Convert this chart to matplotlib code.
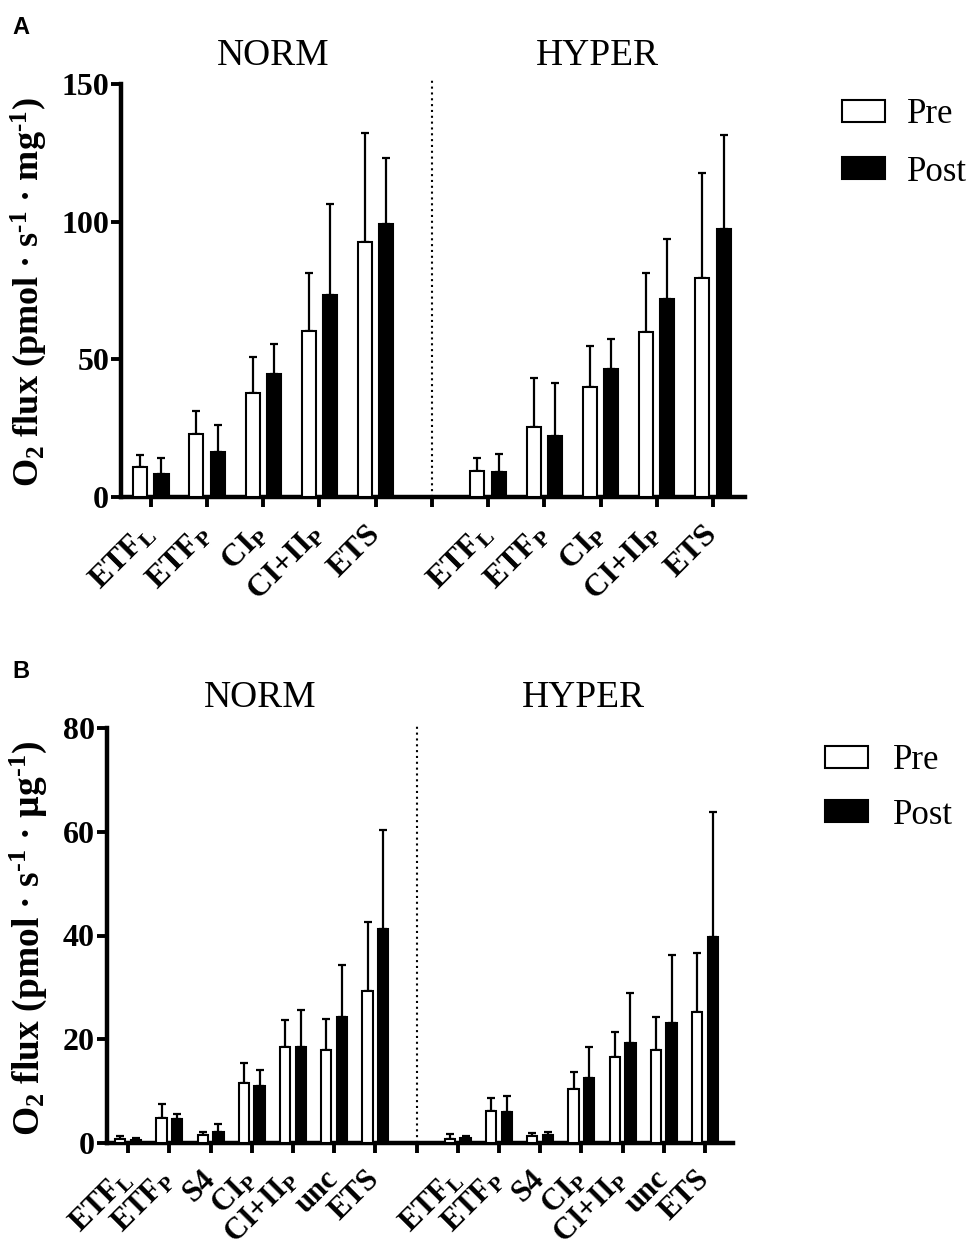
import numpy as np
import matplotlib
matplotlib.use("Agg")
import matplotlib.pyplot as plt
from matplotlib.patches import Patch

plt.rcParams['font.family'] = ['Liberation Serif', 'DejaVu Serif']
plt.rcParams['mathtext.fontset'] = 'custom'
plt.rcParams['mathtext.rm'] = 'Liberation Serif:bold'
plt.rcParams['mathtext.it'] = 'Liberation Serif:bold'
plt.rcParams['mathtext.bf'] = 'Liberation Serif:bold'

# ---------------- data ----------------
groups = ["NORM", "HYPER"]
series = ["Pre", "Post"]

cats_a = [r"ETF$_\mathrm{L}$", r"ETF$_\mathrm{P}$", r"CI$_\mathrm{P}$", r"CI+II$_\mathrm{P}$", "ETS"]
a_norm_pre = [11.0, 22.9, 37.9, 60.2, 92.7]
a_norm_pre_sd = [4.3, 8.4, 12.8, 21.0, 39.4]
a_norm_post = [8.2, 16.2, 44.8, 73.5, 99.0]
a_norm_post_sd = [6.1, 10.0, 10.8, 32.8, 24.3]
a_hyper_pre = [9.5, 25.6, 40.1, 60.0, 79.7]
a_hyper_pre_sd = [4.6, 17.8, 14.8, 21.3, 37.8]
a_hyper_post = [8.9, 22.3, 46.4, 71.9, 97.2]
a_hyper_post_sd = [6.7, 19.0, 10.9, 21.8, 34.1]

cats_b = [r"ETF$_\mathrm{L}$", r"ETF$_\mathrm{P}$", "S4", r"CI$_\mathrm{P}$", r"CI+II$_\mathrm{P}$", "unc", "ETS"]
b_norm_pre = [0.7, 4.7, 1.5, 11.6, 18.4, 17.9, 29.2]
b_norm_pre_sd = [0.5, 2.7, 0.6, 3.7, 5.2, 6.0, 13.5]
b_norm_post = [0.6, 4.6, 2.1, 11.0, 18.4, 24.2, 41.2]
b_norm_post_sd = [0.3, 0.9, 1.6, 3.0, 7.2, 10.1, 19.2]
b_hyper_pre = [0.7, 6.2, 1.2, 10.4, 16.6, 17.8, 25.3]
b_hyper_pre_sd = [1.0, 2.4, 0.6, 3.3, 4.7, 6.4, 11.4]
b_hyper_post = [0.9, 6.0, 1.4, 12.4, 19.2, 23.2, 39.7]
b_hyper_post_sd = [0.4, 3.0, 0.6, 6.1, 9.7, 13.1, 24.1]

ylabel_a = "O$_2$ flux (pmol · s$^{\u20101}$ · mg$^{\u20101}$)"
ylabel_b = "O$_2$ flux (pmol · s$^{\u20101}$ · µg$^{\u20101}$)"
yticks_a = [0, 50, 100, 150]
yticks_b = [0, 20, 40, 60, 80]

W, H = 974, 1256
fig = plt.figure(figsize=(W / 100, H / 100), dpi=100)


def px_axes(l, t, r, b):
    return fig.add_axes([l / W, 1 - b / H, (r - l) / W, (b - t) / H])


def draw_panel(ax, cats, norm_pre, norm_pre_sd, norm_post, norm_post_sd,
               hyper_pre, hyper_pre_sd, hyper_post, hyper_post_sd,
               ymax, yticks, xlim, tick_fs, xtick_fs, xpad):
    n = len(cats)
    xn = np.arange(n)
    xh = np.arange(n) + n + 1
    off, bw = 0.19, 0.25
    pre = list(norm_pre) + list(hyper_pre)
    pre_sd = list(norm_pre_sd) + list(hyper_pre_sd)
    post = list(norm_post) + list(hyper_post)
    post_sd = list(norm_post_sd) + list(hyper_post_sd)
    xs = np.concatenate([xn, xh])
    ax.bar(xs - off, pre, width=bw, facecolor='white', edgecolor='black', linewidth=1.5, zorder=3)
    ax.bar(xs + off, post, width=bw, facecolor='black', edgecolor='black', linewidth=1.5, zorder=3)
    ax.errorbar(xs - off, pre, yerr=[np.zeros(len(pre)), pre_sd], fmt='none', ecolor='black',
                elinewidth=1.6, capsize=2.6, capthick=1.6, zorder=2)
    ax.errorbar(xs + off, post, yerr=[np.zeros(len(post)), post_sd], fmt='none', ecolor='black',
                elinewidth=1.6, capsize=2.6, capthick=1.6, zorder=2)
    gap = n
    ax.plot([gap, gap], [0, ymax * 1.012], linestyle=(0, (1, 1.8)), color='black', lw=1.5,
            clip_on=False, zorder=1)
    ax.set_xlim(*xlim)
    ax.set_ylim(0, ymax)
    ax.set_yticks(yticks)
    ax.set_yticklabels([str(v) for v in yticks], fontsize=tick_fs, fontweight='bold')
    allpos = list(xn) + [gap] + list(xh)
    labels = list(cats) + [""] + list(cats)
    ax.set_xticks(allpos)
    ax.set_xticklabels(labels, rotation=45, ha='right', va='center', rotation_mode='anchor',
                       fontsize=xtick_fs, fontweight='bold')
    for s in ['top', 'right']:
        ax.spines[s].set_visible(False)
    for s in ['left', 'bottom']:
        ax.spines[s].set_linewidth(3.2)
    ax.tick_params(axis='both', direction='out', length=7.5, width=2.8)
    ax.tick_params(axis='y', pad=1)
    ax.tick_params(axis='x', pad=xpad)


axA = px_axes(121, 84, 745, 497)
draw_panel(axA, cats_a, a_norm_pre, a_norm_pre_sd, a_norm_post, a_norm_post_sd,
           a_hyper_pre, a_hyper_pre_sd, a_hyper_post, a_hyper_post_sd,
           150, yticks_a, (-0.53, 10.57), 23, 23, 16)

axB = px_axes(106.7, 728.3, 733, 1142.7)
draw_panel(axB, cats_b, b_norm_pre, b_norm_pre_sd, b_norm_post, b_norm_post_sd,
           b_hyper_pre, b_hyper_pre_sd, b_hyper_post, b_hyper_post_sd,
           80, yticks_b, (-0.52, 14.68), 23, 22, 16)

# y labels
fig.text(29 / W, 1 - 292 / H, ylabel_a, fontsize=26, fontweight='bold', rotation=90,
         ha='center', va='center')
fig.text(28 / W, 1 - 938 / H, ylabel_b, fontsize=27, fontweight='bold', rotation=90,
         ha='center', va='center')

# group titles
fig.text(273 / W, 1 - 65 / H, groups[0], fontsize=27, ha='center', va='baseline')
fig.text(597 / W, 1 - 65 / H, groups[1], fontsize=27, ha='center', va='baseline')
fig.text(260 / W, 1 - 707 / H, groups[0], fontsize=27, ha='center', va='baseline')
fig.text(583 / W, 1 - 707 / H, groups[1], fontsize=27, ha='center', va='baseline')

# panel letters
fig.text(12 / W, 1 - 34 / H, "A", fontsize=17, fontweight='bold', family='Liberation Sans', va='baseline')
fig.text(12 / W, 1 - 678 / H, "B", fontsize=17, fontweight='bold', family='Liberation Sans', va='baseline')

# legends
handles = [Patch(facecolor='white', edgecolor='black', linewidth=1.5, label=series[0]),
           Patch(facecolor='black', edgecolor='black', linewidth=1.5, label=series[1])]
for (lx, ty, tp, ls) in [(842, 98, 0.62, 0.71), (825, 744, 0.7, 0.62)]:
    fig.legend(handles=handles, loc='upper left', bbox_to_anchor=(lx / W, 1 - ty / H),
               frameon=False, fontsize=25, handlelength=1.25, handleheight=0.6,
               handletextpad=tp, labelspacing=ls, borderpad=0, borderaxespad=0)

fig.savefig("out.png", dpi=100)
